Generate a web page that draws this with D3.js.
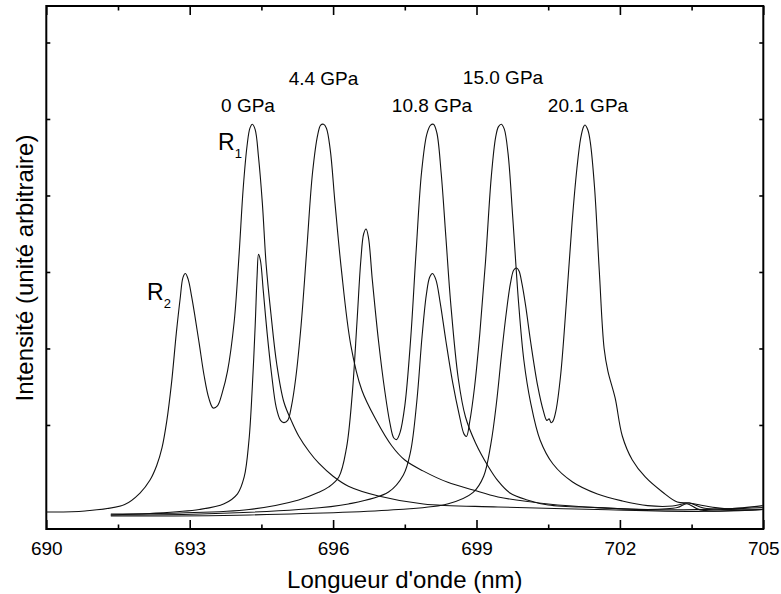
<!DOCTYPE html>
<html><head><meta charset="utf-8">
<script src="https://cdnjs.cloudflare.com/ajax/libs/d3/7.8.5/d3.min.js"></script>
<style>
body{margin:0;background:#fff}
text{font-family:"Liberation Sans",Arial,Helvetica,sans-serif;fill:#000}
</style>
</head><body>
<svg id="chart" width="781" height="594"></svg>
<script>
// ---- data ----
const xTicks = [690, 693, 696, 699, 702, 705];
const xMinorTicks = [691.5, 694.5, 697.5, 700.5, 703.5];
const yTicks = [1000, 2000, 3000, 4000, 5000, 6000];
const pressures = ["0 GPa", "4.4 GPa", "10.8 GPa", "15.0 GPa", "20.1 GPa"];

// [wavelength nm, intensity a.u.]
const spec0 = [[690.00,-137],[690.81,-124],[691.64,-40],[691.96,110],[692.17,280],[692.31,470],[692.42,700],[692.52,1050],[692.62,1550],[692.72,2200],[692.80,2650],[692.86,2930],[692.91,2980],[692.97,2900],[693.04,2680],[693.11,2420],[693.20,2060],[693.30,1650],[693.40,1350],[693.49,1222],[693.58,1250],[693.68,1420],[693.79,1700],[693.93,2346],[694.03,3200],[694.12,4100],[694.20,4650],[694.26,4880],[694.31,4931],[694.37,4860],[694.44,4500],[694.52,3900],[694.60,3091],[694.70,2450],[694.82,1800],[694.97,1300],[695.13,1050],[695.28,856],[695.50,650],[695.70,500],[696.00,330],[696.32,200],[696.95,72],[697.89,-33],[699.45,-72],[701.53,-105],[703.61,-129],[704.99,-105]];
const spec44 = [[691.35,-176],[692.17,-157],[693.20,-105],[693.72,-30],[694.00,100],[694.14,320],[694.24,800],[694.31,1500],[694.37,2300],[694.41,2950],[694.44,3230],[694.48,3150],[694.54,2750],[694.62,2200],[694.71,1680],[694.81,1230],[694.90,1060],[694.97,1030],[695.05,1059],[695.13,1250],[695.22,1620],[695.33,2300],[695.45,3300],[695.57,4300],[695.68,4800],[695.74,4920],[695.80,4931],[695.86,4880],[695.94,4600],[696.04,3900],[696.17,3050],[696.37,2045],[696.60,1457],[696.90,1065],[697.23,725],[697.50,542],[697.88,400],[698.40,250],[698.93,150],[699.45,59],[700.50,-33],[701.53,-80],[702.58,-105],[703.61,-105],[704.99,-80]];
const spec108 = [[691.35,-163],[692.80,-150],[694.24,-105],[695.28,20],[695.70,119],[695.91,190],[696.12,320],[696.28,700],[696.40,1400],[696.50,2350],[696.58,3150],[696.64,3500],[696.69,3562],[696.74,3450],[696.82,2900],[696.95,2098],[697.08,1450],[697.19,1020],[697.27,830],[697.33,810],[697.40,900],[697.50,1250],[697.62,2100],[697.74,3300],[697.85,4300],[697.96,4800],[698.04,4920],[698.10,4931],[698.17,4820],[698.26,4300],[698.36,3450],[698.46,2594],[698.62,1601],[698.77,1104],[698.98,765],[699.24,464],[699.45,268],[699.70,111],[700.06,20],[700.50,-46],[701.53,-80],[702.58,-105],[703.20,-80],[703.40,-30],[703.68,-110],[704.99,-105]];
const spec150 = [[691.35,-176],[693.22,-163],[695.28,-105],[696.32,-33],[697.16,124],[697.47,346],[697.62,650],[697.75,1300],[697.86,2150],[697.95,2700],[698.02,2930],[698.08,2980],[698.15,2900],[698.24,2600],[698.36,2098],[698.50,1560],[698.64,1130],[698.74,880],[698.79,850],[698.86,1050],[698.96,1500],[699.07,2200],[699.19,3150],[699.31,4250],[699.40,4760],[699.46,4900],[699.52,4931],[699.58,4870],[699.66,4550],[699.76,3700],[699.88,2600],[699.99,1850],[700.13,1300],[700.33,804],[700.60,490],[701.01,255],[701.53,98],[702.05,7],[702.58,-55],[703.10,-60],[703.45,-20],[703.75,-85],[704.99,-105]];
const spec201 = [[691.35,-190],[694.26,-176],[697.37,-105],[698.41,-30],[698.93,119],[699.15,330],[699.30,750],[699.42,1300],[699.52,1900],[699.62,2450],[699.71,2850],[699.78,3026],[699.84,3052],[699.89,3013],[699.95,2850],[700.03,2550],[700.13,2098],[700.28,1510],[700.40,1180],[700.47,1060],[700.52,1080],[700.56,1030],[700.60,1050],[700.66,1180],[700.76,1650],[700.88,2600],[701.00,3650],[701.10,4350],[701.18,4750],[701.24,4900],[701.27,4921],[701.33,4856],[701.38,4700],[701.47,4100],[701.57,3000],[701.67,2000],[701.75,1700],[701.90,1353],[702.05,856],[702.26,542],[702.53,320],[702.89,124],[703.20,-7],[703.46,-20],[703.70,-50],[704.00,-80],[704.30,-95],[704.99,-55]];
const spectra = [spec0, spec44, spec108, spec150, spec201];

// ---- layout ----
const plot = {left: 46.3, right: 763.3, top: 6, bottom: 529};
const svg = d3.select("#chart");

const x = d3.scaleLinear().domain([690, 705]).range([plot.left, plot.right]);
const y = d3.scaleLinear().domain([-360, 6477]).range([plot.bottom, plot.top]);

// axes
const gB = svg.append("g").attr("transform", `translate(0,${plot.bottom})`)
  .call(d3.axisBottom(x).tickValues(xTicks).tickSize(-9).tickPadding(13).tickFormat(d3.format("d")));
const gBm = svg.append("g").attr("transform", `translate(0,${plot.bottom})`)
  .call(d3.axisBottom(x).tickValues(xMinorTicks).tickSize(-4.5).tickFormat(""));
const gT = svg.append("g").attr("transform", `translate(0,${plot.top})`)
  .call(d3.axisTop(x).tickValues(xTicks).tickSize(-9).tickFormat(""));
const gTm = svg.append("g").attr("transform", `translate(0,${plot.top})`)
  .call(d3.axisTop(x).tickValues(xMinorTicks).tickSize(-4.5).tickFormat(""));
const gL = svg.append("g").attr("transform", `translate(${plot.left},0)`)
  .call(d3.axisLeft(y).tickValues(yTicks).tickSize(-4).tickFormat(""));
const gR = svg.append("g").attr("transform", `translate(${plot.right},0)`)
  .call(d3.axisRight(y).tickValues(yTicks).tickSize(-4).tickFormat(""));
[gB, gBm, gT, gTm, gL, gR].forEach(g => {
  g.select(".domain").remove();
  g.selectAll(".tick line").attr("stroke", "#000").attr("stroke-width", 1.6);
});
gB.selectAll(".tick text").attr("font-size", 19).attr("font-family", "Liberation Sans, Arial, sans-serif").attr("fill", "#000");

// frame
svg.append("rect")
  .attr("x", plot.left).attr("y", plot.top)
  .attr("width", plot.right - plot.left).attr("height", plot.bottom - plot.top)
  .attr("fill", "none").attr("stroke", "#000").attr("stroke-width", 2);

// spectra
const line = d3.line().x(d => x(d[0])).y(d => y(d[1])).curve(d3.curveCatmullRom.alpha(0.5));
svg.append("g").selectAll("path").data(spectra).join("path")
  .attr("d", line).attr("fill", "none").attr("stroke", "#111").attr("stroke-width", 1.1);

// pressure labels
const labelPos = [[248, 112], [323.5, 85], [432, 112], [503, 84], [588, 112]];
svg.append("g").selectAll("text").data(pressures).join("text")
  .attr("x", (d, i) => labelPos[i][0]).attr("y", (d, i) => labelPos[i][1])
  .attr("text-anchor", "middle").attr("font-size", 19).text(d => d);

// R1 / R2 labels
function rLabel(px, py, sub) {
  const t = svg.append("text").attr("x", px).attr("y", py).attr("font-size", 23);
  t.append("tspan").text("R");
  t.append("tspan").attr("font-size", 13).attr("dy", 8).text(sub);
}
rLabel(218, 150, "1");
rLabel(147, 300, "2");

// axis titles
svg.append("text").attr("x", (plot.left + plot.right) / 2).attr("y", 588)
  .attr("text-anchor", "middle").attr("font-size", 24).text("Longueur d'onde (nm)");
svg.append("text").attr("transform", "translate(33,268) rotate(-90)")
  .attr("text-anchor", "middle").attr("font-size", 24).text("Intensité (unité arbitraire)");
</script>
</body></html>
